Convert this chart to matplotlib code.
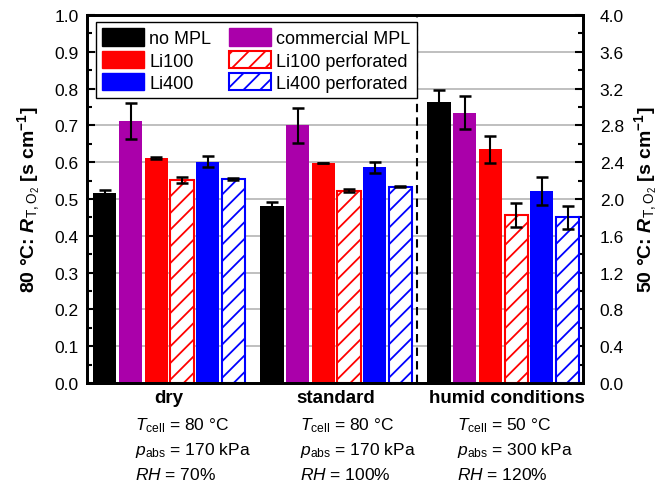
import numpy as np
import matplotlib
matplotlib.use('Agg')
import matplotlib.pyplot as plt
from matplotlib.patches import Patch

plt.rcParams['font.family'] = ['Liberation Sans', 'DejaVu Sans']
plt.rcParams['mathtext.fontset'] = 'custom'
plt.rcParams['mathtext.rm'] = 'Liberation Sans'
plt.rcParams['mathtext.it'] = 'Liberation Sans:italic'
plt.rcParams['mathtext.bf'] = 'Liberation Sans:bold'
plt.rcParams['mathtext.bfit'] = 'Liberation Sans:italic:bold'
plt.rcParams['hatch.linewidth'] = 1.3

# sample order inside each group
samples = ['no MPL', 'commercial MPL', 'Li100', 'Li100 perforated', 'Li400', 'Li400 perforated']
colors = ['black', '#AA00AA', '#FF0000', '#FF0000', '#0000FF', '#0000FF']
hatched = [False, False, False, True, False, True]

conditions = ['dry', 'standard', 'humid conditions']
cond_T = ['80 °C', '80 °C', '50 °C']
cond_p = ['170 kPa', '170 kPa', '300 kPa']
cond_RH = ['70%', '100%', '120%']

# R_T,O2 in s/cm (dry, standard at 80 °C -> left axis; humid at 50 °C -> right axis)
dry = [0.516, 0.712, 0.612, 0.552, 0.602, 0.554]
dry_err = [0.009, 0.050, 0.003, 0.008, 0.016, 0.002]
standard = [0.482, 0.700, 0.598, 0.523, 0.586, 0.534]
standard_err = [0.011, 0.047, 0.0, 0.004, 0.016, 0.002]
humid = [3.06, 2.94, 2.54, 1.83, 2.09, 1.80]
humid_err = [0.12, 0.18, 0.15, 0.13, 0.15, 0.13]

fig = plt.figure(figsize=(6.58, 4.85), dpi=100)
ax = fig.add_axes([0.132, 0.208, 0.754, 0.759])
ax2 = ax.twinx()

gap = 6.5
w = 0.9
idx = np.arange(len(samples))


def draw_group(axis, g, vals, errs):
    x = g * gap + idx
    for xi, v, c, h in zip(x, vals, colors, hatched):
        if h:
            axis.bar(xi, v, w, facecolor='white', edgecolor=c, hatch='//', linewidth=1.5, zorder=2)
        else:
            axis.bar(xi, v, w, color=c, linewidth=0, zorder=2)
    axis.errorbar(x, vals, yerr=errs, fmt='none', ecolor='black', elinewidth=1.5,
                  capsize=4, capthick=1.8, zorder=3)


draw_group(ax, 0, dry, dry_err)
draw_group(ax, 1, standard, standard_err)
draw_group(ax2, 2, humid, humid_err)

ax.set_xlim(-0.7, 18.6)
ax.set_ylim(0, 1.0)
ax2.set_ylim(0, 4.0)
ax.set_xticks([])

ax.set_yticks(np.arange(0, 1.01, 0.1))
ax.set_yticks(np.arange(0.05, 1.0, 0.1), minor=True)
ax.set_yticklabels([f'{v:.1f}' for v in np.arange(0, 1.01, 0.1)])
ax2.set_yticks(np.arange(0, 4.01, 0.4))
ax2.set_yticks(np.arange(0.2, 4.0, 0.4), minor=True)
ax2.set_yticklabels([f'{v:.1f}' for v in np.arange(0, 4.01, 0.4)])

for a in (ax, ax2):
    a.tick_params(axis='y', which='major', direction='in', length=6, width=1.5, labelsize=12.5)
    a.tick_params(axis='y', which='minor', direction='in', length=3.5, width=1.5)
    for s in a.spines.values():
        s.set_linewidth(2)
ax.tick_params(axis='y', which='major', pad=6)
ax2.tick_params(axis='y', which='major', pad=12)

ax.yaxis.grid(True, which='major', color='#b4b4b4', linewidth=1.2, zorder=0)
ax.set_axisbelow(True)

# separator between 80 °C and 50 °C data
ax.axvline(12.15, color='black', linestyle=(0, (4, 2.5)), linewidth=1.5, zorder=1)

ax.set_ylabel(r'80 °C: $\mathbfit{R}_{\mathrm{T,O_2}}$ [s cm$^{\mathbf{-1}}$]',
              fontsize=14, fontweight='bold', labelpad=9)
ax2.set_ylabel(r'50 °C: $\mathbfit{R}_{\mathrm{T,O_2}}$ [s cm$^{\mathbf{-1}}$]',
               fontsize=14, fontweight='bold', rotation=90, labelpad=6)

handles = []
order = [0, 2, 4, 1, 3, 5]
for i in order:
    if hatched[i]:
        handles.append(Patch(facecolor='white', edgecolor=colors[i], hatch='//', linewidth=1.5, label=samples[i]))
    else:
        handles.append(Patch(facecolor=colors[i], edgecolor=colors[i], label=samples[i]))
leg = ax.legend(handles=handles, ncol=2, loc='upper left', bbox_to_anchor=(0.018, 0.981),
                borderaxespad=0, fontsize=13, fancybox=False, edgecolor='black', framealpha=1,
                handlelength=2.3, handleheight=1.1, labelspacing=0.2, handletextpad=0.3,
                columnspacing=1.0, borderpad=0.35)
leg.get_frame().set_linewidth(1.0)
leg.set_zorder(10)

# condition labels under each group
tr = ax.get_xaxis_transform()
left_x = [1.17, 7.59, 13.7]
for g, name in enumerate(conditions):
    cx = g * gap + 2.5 + (0.15 if g == 2 else 0)
    ax.text(cx, -0.038, name, transform=tr, ha='center', va='center', fontsize=13.5, fontweight='bold')
    lx = left_x[g]
    ax.text(lx, -0.112, r'$\mathit{T}_{\mathrm{cell}}$ = ' + cond_T[g], transform=tr,
            ha='left', va='center', fontsize=12.5)
    ax.text(lx, -0.18, r'$\mathit{p}_{\mathrm{abs}}$ = ' + cond_p[g], transform=tr,
            ha='left', va='center', fontsize=12.5)
    ax.text(lx, -0.248, r'$\mathit{RH}$ = ' + cond_RH[g], transform=tr,
            ha='left', va='center', fontsize=12.5)

fig.savefig('out.png', dpi=100)
